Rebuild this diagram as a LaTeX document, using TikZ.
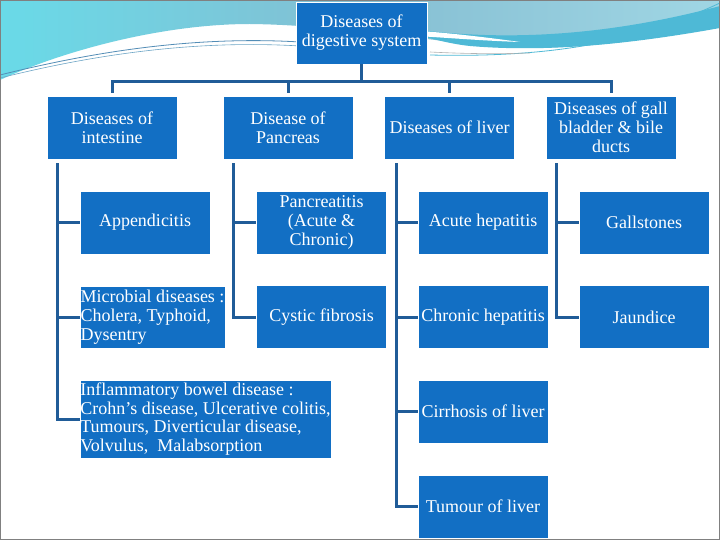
\documentclass[tikz,border=0pt]{standalone}
\usepackage{fontspec}
\setmainfont{Liberation Serif}
\newcommand\boxfs{\fontsize{18}{18.8}\selectfont}
\definecolor{boxblue}{RGB}{18,111,196}
\definecolor{connblue}{RGB}{32,92,152}
\definecolor{tealtop}{RGB}{132,190,210}
\definecolor{tealcyan}{RGB}{105,218,232}
\definecolor{teallight}{RGB}{160,214,228}
\definecolor{tealband}{RGB}{78,185,214}
\definecolor{framegray}{RGB}{128,128,128}
\begin{document}
\begin{tikzpicture}[x=1pt,y=-1pt,
  box/.style={fill=boxblue, draw=white, line width=0.8pt, text=white, font=\boxfs,
    align=center, inner sep=0pt},
  w130/.style={minimum width=130pt, minimum height=63pt},
  conn/.style={draw=connblue, line width=3pt}]
\useasboundingbox (0,0) rectangle (720,540);
\fill[white] (0,0) rectangle (720,540);
% background swoosh
\shade[left color=tealcyan, right color=teallight, middle color=tealtop]
  (0,0) -- (720,0) -- (720,26) .. controls (640,42) and (570,50) .. (510,47)
  .. controls (430,42) and (340,25) .. (250,24)
  .. controls (160,24) and (60,52) .. (0,80) -- cycle;
\fill[tealband] (420,30) .. controls (500,40) and (600,38) .. (720,6) -- (720,28)
  .. controls (620,46) and (540,52) .. (470,46) .. controls (450,44) and (430,38) .. (420,36) -- cycle;
\fill[white] (300,27) .. controls (360,27) and (420,28) .. (520,42)
  .. controls (460,40) and (400,33) .. (300,31) -- cycle;
\draw[connblue!60!teallight, line width=0.8pt] (0,75) .. controls (100,50) and (200,36) .. (300,42);
\draw[connblue!40!teallight, line width=0.6pt] (0,78) .. controls (100,53) and (200,40) .. (300,46);
\draw[tealband, line width=0.8pt] (430,55) .. controls (560,58) and (640,40) .. (720,3);
\draw[framegray!60, line width=0.6pt] (430,52) .. controls (470,54) and (500,54) .. (530,53);
% frame
\draw[framegray, line width=1pt] (0.5,0.5) rectangle (719.5,539.5);
% nodes
\node[box, minimum width=131pt, minimum height=62pt] (root) at (361.5,33) {Diseases of\\digestive system};
\node[box, w130] (int) at (112,127.5) {Diseases of\\intestine};
\node[box, w130] (pan) at (288,127.5) {Disease of\\Pancreas};
\node[box, w130] (liv) at (449.5,127.5) {Diseases of liver};
\node[box, w130] (gal) at (611,127.5) {Diseases of gall\\bladder \& bile\\ducts};
\node[box, w130] (app) at (145,222.5) {Appendicitis};
\node[box, w130] (pat) at (321.5,222.5) {Pancreatitis\\(Acute \&\\Chronic)};
\node[box, w130] (ach) at (483,222.5) {Acute hepatitis};
\node[box, w130] (gst) at (644,222.5) {Gallstones};
\node[box, minimum width=145pt, minimum height=62pt, align=left] (mic) at (152.5,317)
  {Microbial diseases :\\Cholera, Typhoid,\\Dysentry};
\node[box, w130] (cys) at (321.5,317) {Cystic fibrosis};
\node[box, w130] (chh) at (483,317) {Chronic hepatitis};
\node[box, w130] (jau) at (644,317) {Jaundice};
\node[box, minimum width=251pt, minimum height=78pt, align=left] (ibd) at (205.5,419)
  {Inflammatory bowel disease :\\Crohn's disease, Ulcerative colitis,\\Tumours, Diverticular disease,\\Volvulus,\ \ Malabsorption};
\node[box, w130] (cir) at (483,411.5) {Cirrhosis of liver};
\node[box, w130] (tum) at (483,506.5) {Tumour of liver};
% top connectors
\coordinate (bar) at ([yshift=-17pt]root.south);
\draw[conn] (root.south) -- (bar);
\draw[conn] ([yshift=3pt]int.north) |- (bar) -| ([yshift=3pt]gal.north);
\draw[conn] ([yshift=3pt]pan.north) -- (pan.north |- bar);
\draw[conn] ([yshift=3pt]liv.north) -- (liv.north |- bar);
% intestine
\coordinate (intv) at ([xshift=11pt,yshift=-4pt]int.south west);
\draw[conn] (intv) |- (ibd.west);
\draw[conn] (intv |- app.west) -- (app.west);
\draw[conn] (intv |- mic.west) -- (mic.west);
% pancreas
\coordinate (panv) at ([xshift=11pt,yshift=-4pt]pan.south west);
\draw[conn] (panv) |- (cys.west);
\draw[conn] (panv |- pat.west) -- (pat.west);
% liver
\coordinate (livv) at ([xshift=12pt,yshift=-4pt]liv.south west);
\draw[conn] (livv) |- (tum.west);
\draw[conn] (livv |- ach.west) -- (ach.west);
\draw[conn] (livv |- chh.west) -- (chh.west);
\draw[conn] (livv |- cir.west) -- (cir.west);
% gall bladder
\coordinate (galv) at ([xshift=11pt,yshift=-4pt]gal.south west);
\draw[conn] (galv) |- (jau.west);
\draw[conn] (galv |- gst.west) -- (gst.west);
\end{tikzpicture}
\end{document}
